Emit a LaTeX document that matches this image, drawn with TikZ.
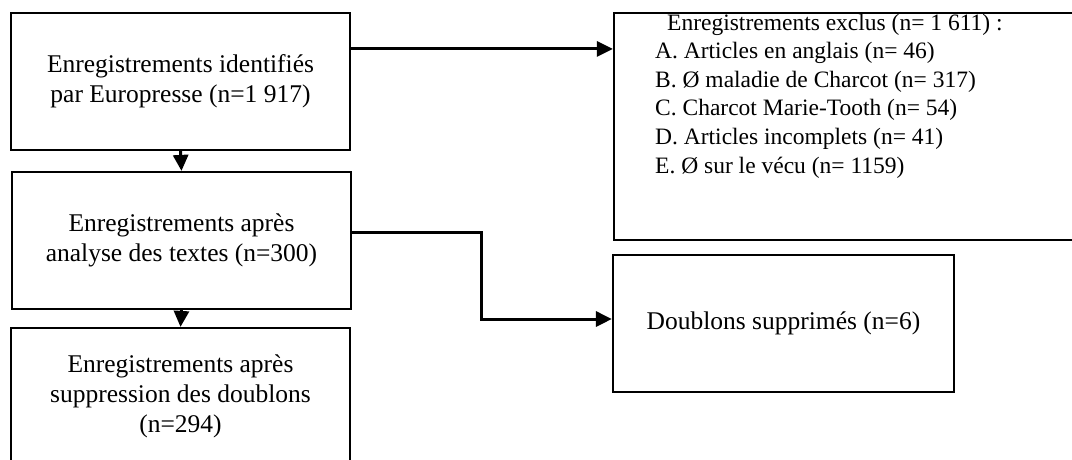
\documentclass[tikz,border=0pt]{standalone}
\usepackage{fontspec}
\setmainfont{Liberation Serif}
\usetikzlibrary{arrows.meta,calc}
\begin{document}
\begin{tikzpicture}[x=1pt,y=-1pt,
  box/.style={draw, line width=2.2pt, minimum width=339pt, minimum height=137pt,
    align=center, inner sep=0pt, font=\fontsize{25.5}{30}\selectfont},
  listtext/.style={anchor=base west, inner sep=0pt, font=\fontsize{23.5}{28.6}\selectfont},
  arr/.style={line width=3pt, -{Triangle[length=16pt,width=15pt]}}]
\useasboundingbox (0,0) rectangle (1072,459);
\clip (0,0) rectangle (1072,459);
\node[box] (b1) at (180.5,81.5) {Enregistrements identifiés\\par Europresse (n=1 917)};
\node[box] (b2) at (181.5,240.5) {Enregistrements après\\analyse des textes (n=300)};
\node[box] (b3) at (180.5,396.5) {Enregistrements après\\suppression des doublons\\(n=294)};
\node[box, minimum width=464pt, minimum height=227pt] (excl) at (846,126.5) {};
\node[listtext] (exclt) at (655,30) {\begin{tabular}[t]{@{}l@{}}
\hspace{12pt}Enregistrements exclus (n= 1 611) :\\
A. Articles en anglais (n= 46)\\
B. Ø maladie de Charcot (n= 317)\\
C. Charcot Marie-Tooth (n= 54)\\
D. Articles incomplets (n= 41)\\
E. Ø sur le vécu (n= 1159)
\end{tabular}};
\node[box, minimum width=341pt] (dbl) at (783.5,323.5) {Doublons supprimés (n=6)};
\draw[arr] (b1.south) -- (b2.north);
\draw[arr] (b2.south) -- (b3.north);
\draw[arr] ([yshift=-37pt]b1.north east) -- ([yshift=-37pt]b1.north east -| excl.west);
\draw[arr] ([yshift=8.5pt]b2.east) -- ++(129,0) |- ([yshift=4.5pt]dbl.west);
\end{tikzpicture}
\end{document}
